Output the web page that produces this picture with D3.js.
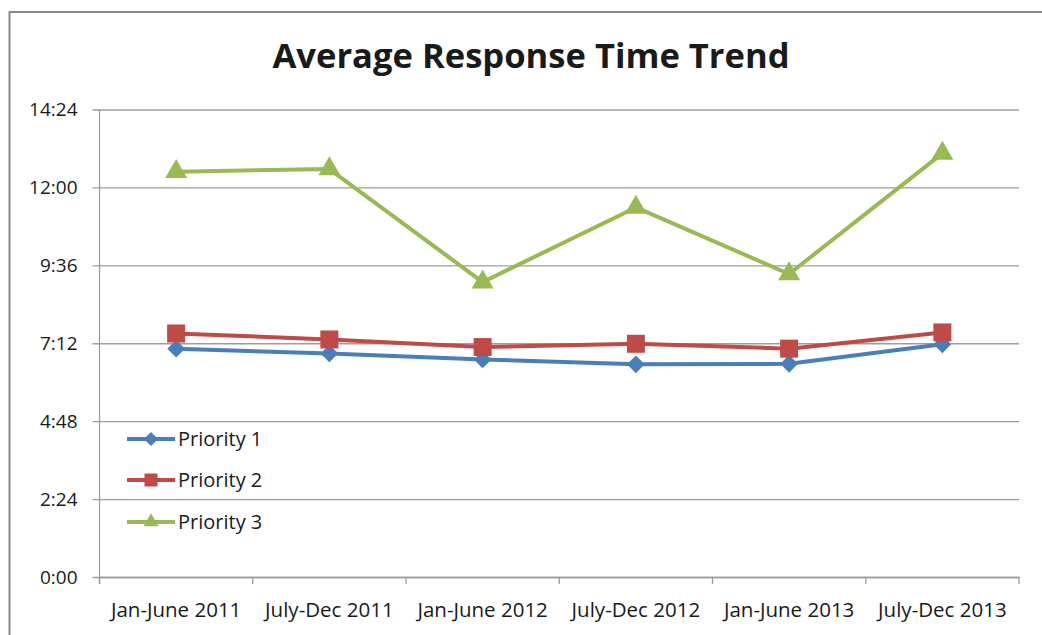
<!DOCTYPE html>
<html>
<head>
<meta charset="utf-8">
<script src="https://cdn.jsdelivr.net/npm/d3@7"></script>
<style>
  html, body { margin: 0; padding: 0; background: #fff; }
  svg { display: block; }
  text { font-family: "Open Sans", "Noto Sans", sans-serif; fill: #1a1a1a; }
</style>
</head>
<body>
<svg id="chart" width="1042" height="635"></svg>
<script>
// chart values (h:mm)
const periods = ["Jan-June 2011", "July-Dec 2011", "Jan-June 2012", "July-Dec 2012", "Jan-June 2013", "July-Dec 2013"]
const priority1 = ["7:02", "6:53", "6:42", "6:33", "6:34", "7:10"]
const priority2 = ["7:30", "7:19", "7:05", "7:11", "7:02", "7:32"]
const priority3 = ["12:29", "12:34", "9:05", "11:23", "9:20", "13:03"]
const seriesNames = ["Priority 1", "Priority 2", "Priority 3"]
const yTicks = ["0:00", "2:24", "4:48", "7:12", "9:36", "12:00", "14:24"]

const toMin = s => { const p = s.split(':'); return (+p[0]) * 60 + (+p[1]) }
const fmt = m => Math.floor(m / 60) + ':' + String(m % 60).padStart(2, '0')

const colors = ['#4A7EBB', '#BE4B48', '#98B954']
const shapes = ['diamond', 'square', 'triangle']

const margin = { left: 99.5, right: 1019, top: 109.5, bottom: 577 }

const svg = d3.select('#chart')

// outer frame (only top and left edges fall inside the picture)
svg.append('rect')
    .attr('x', 9.5).attr('y', 12)
    .attr('width', 1100).attr('height', 700)
    .attr('fill', '#fff')
    .attr('stroke', '#878787')
    .attr('stroke-width', 2)

svg.append('text')
    .attr('x', 531).attr('y', 68)
    .attr('text-anchor', 'middle')
    .style('font-weight', 'bold')
    .style('font-size', '34px')
    .attr('textLength', 517)
    .attr('lengthAdjust', 'spacingAndGlyphs')
    .attr('fill', '#000')
    .text('Average Response Time Trend')

const xScale = d3.scaleBand()
    .domain(periods)
    .range([margin.left, margin.right])

const yScale = d3.scaleLinear()
    .domain([0, toMin("14:24")])
    .range([margin.bottom, margin.top])

// gridlines + y axis
const yAxis = d3.axisLeft(yScale)
    .tickValues(yTicks.map(toMin))
    .tickFormat(fmt)
    .tickSize(-(margin.right - margin.left))
    .tickPadding(22)

const gy = svg.append('g')
    .attr('transform', 'translate(' + margin.left + ',0)')
    .call(yAxis)
gy.select('.domain').remove()
gy.selectAll('.tick line')
    .attr('x1', -7)
    .attr('stroke', '#9d9d9d')
    .attr('stroke-width', 1.3)
gy.selectAll('.tick text')
    .style('font-size', '19px')
    .attr('fill', '#1a1a1a')

// x axis
const xAxis = d3.axisBottom(xScale).tickSize(0).tickPadding(25)
const gx = svg.append('g')
    .attr('transform', 'translate(0,' + margin.bottom + ')')
    .call(xAxis)
gx.select('.domain').attr('stroke', '#9d9d9d').attr('stroke-width', 1.3)
gx.selectAll('.tick text')
    .style('font-size', '20.5px')
    .attr('fill', '#1a1a1a')

// category separators on x axis
const bounds = periods.map(p => xScale(p)).concat([margin.right])
svg.append('g').selectAll('line')
    .data(bounds)
    .enter()
    .append('line')
    .attr('x1', d => d).attr('x2', d => d)
    .attr('y1', margin.bottom).attr('y2', margin.bottom + 7)
    .attr('stroke', '#9d9d9d')
    .attr('stroke-width', 1.3)

// y axis line
svg.append('line')
    .attr('x1', margin.left).attr('x2', margin.left)
    .attr('y1', margin.top).attr('y2', margin.bottom + 7)
    .attr('stroke', '#9d9d9d')
    .attr('stroke-width', 1.3)

const markerPath = (shape, s) => {
    if (shape === 'triangle') return d3.symbol().type(d3.symbolTriangle).size(s * s * Math.sqrt(3) / 4)()
    return d3.symbol().type(d3.symbolSquare).size(s * s)()
}
const markerRotate = shape => shape === 'diamond' ? ' rotate(45)' : ''

const data = [priority1, priority2, priority3].map((vals, i) => ({
    name: seriesNames[i],
    color: colors[i],
    shape: shapes[i],
    values: vals.map((v, j) => ({ period: periods[j], m: toMin(v) }))
}))

const line = d3.line()
    .x(d => xScale(d.period) + xScale.bandwidth() / 2)
    .y(d => yScale(d.m))

const markerSize = { diamond: 12.5, square: 18, triangle: 22 }

const series = svg.append('g').selectAll('g')
    .data(data)
    .enter()
    .append('g')

series.append('path')
    .attr('d', d => line(d.values))
    .attr('fill', 'none')
    .attr('stroke', d => d.color)
    .attr('stroke-width', 4)
    .attr('stroke-linejoin', 'round')

series.each(function (s) {
    d3.select(this).selectAll('path.marker')
        .data(s.values)
        .enter()
        .append('path')
        .attr('class', 'marker')
        .attr('d', markerPath(s.shape, markerSize[s.shape]))
        .attr('fill', s.color)
        .attr('transform', d => 'translate(' + (xScale(d.period) + xScale.bandwidth() / 2) + ',' + yScale(d.m) + ')' + markerRotate(s.shape))
})

// legend
const legendSize = { diamond: 10, square: 13, triangle: 15 }
const legend = svg.append('g').selectAll('g')
    .data(data)
    .enter()
    .append('g')
    .attr('transform', (d, i) => 'translate(127,' + [439, 480, 522][i] + ')')

legend.append('line')
    .attr('x1', 0).attr('x2', 48)
    .attr('stroke', d => d.color)
    .attr('stroke-width', 4)
legend.append('path')
    .attr('d', d => markerPath(d.shape, legendSize[d.shape]))
    .attr('fill', d => d.color)
    .attr('transform', d => 'translate(24,0)' + markerRotate(d.shape))
legend.append('text')
    .attr('x', 51).attr('y', 7)
    .style('font-size', '20px')
    .text(d => d.name)
</script>
</body>
</html>
